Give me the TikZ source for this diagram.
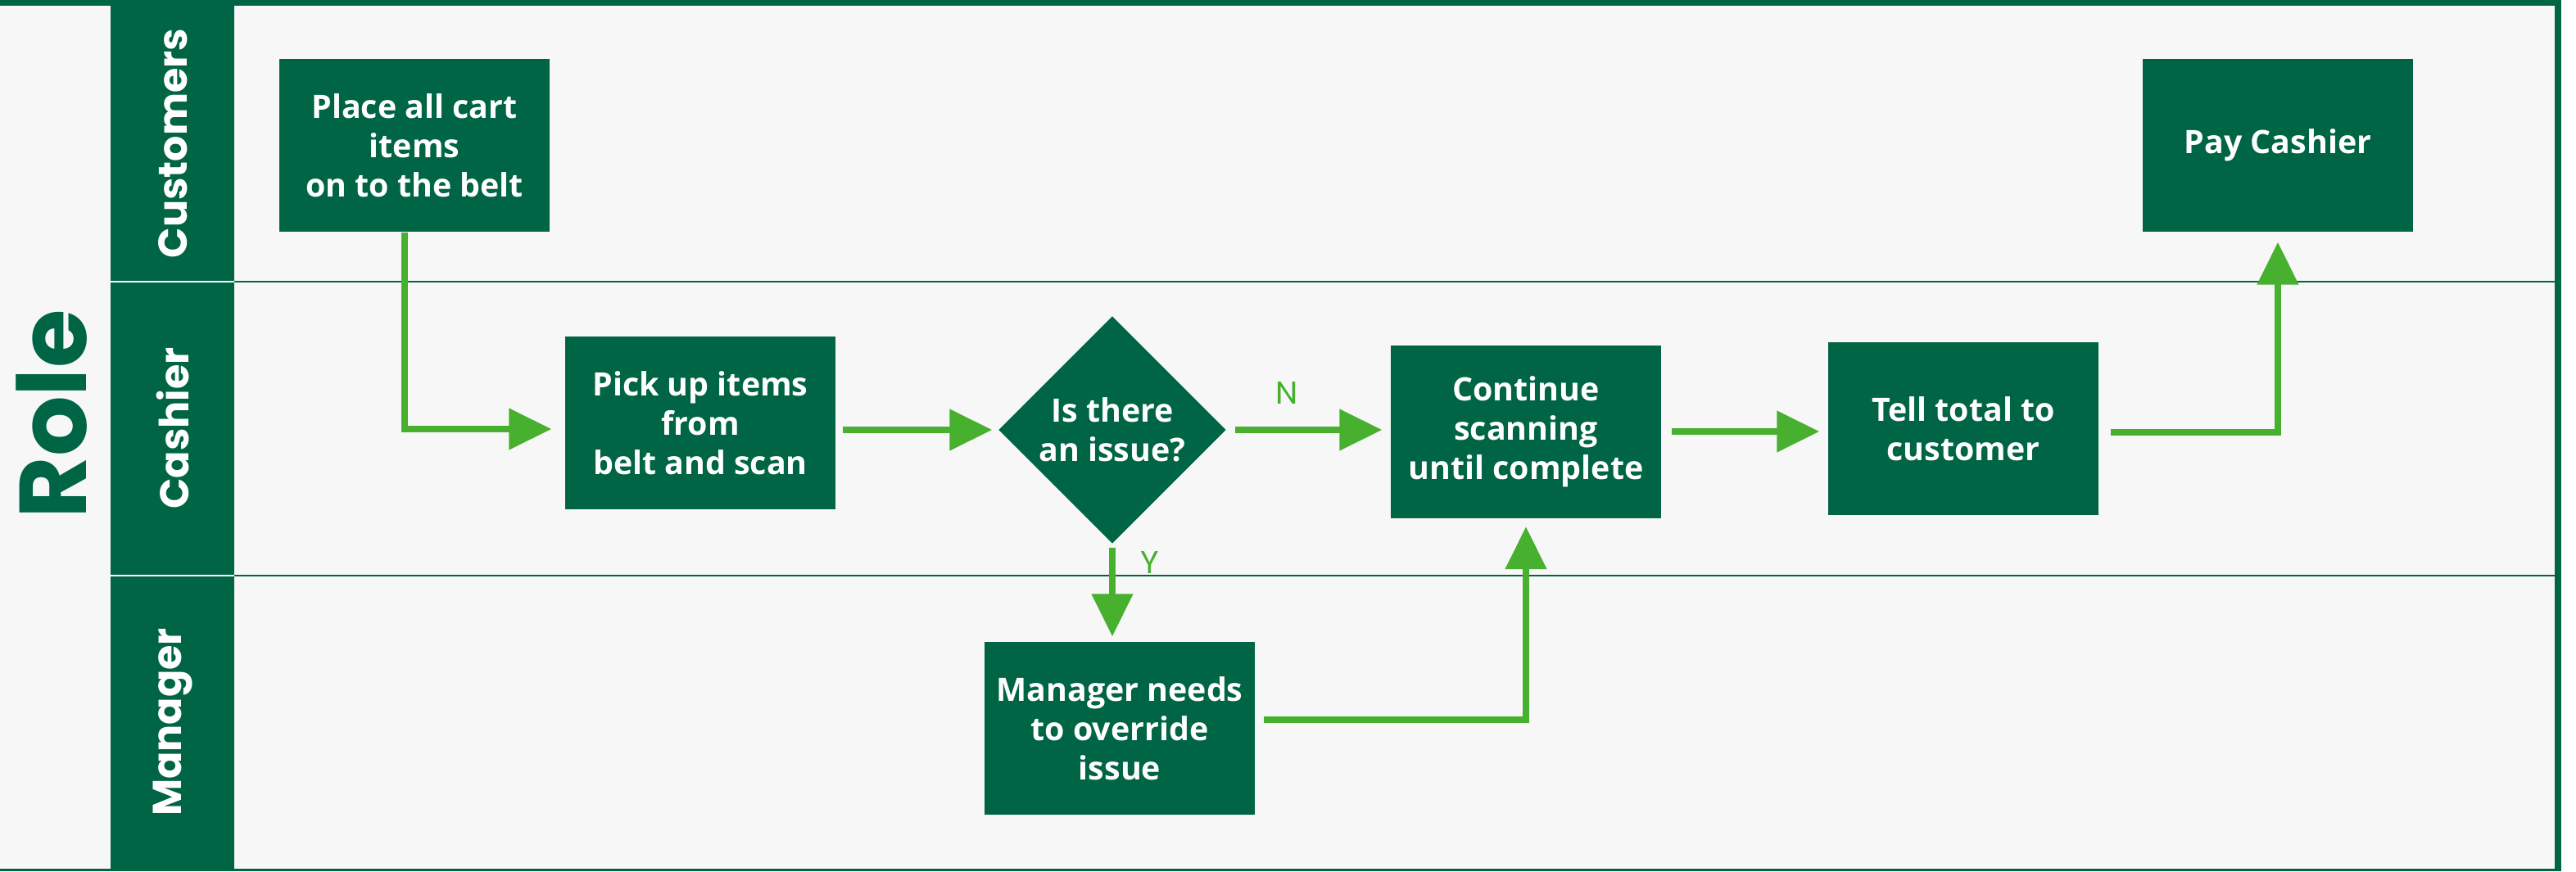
\documentclass[tikz,border=0pt]{standalone}
\usepackage{fontspec}
\setmainfont{Open Sans}
\newfontfamily\headfont{Poppins}
\usepackage{xcolor}
\usetikzlibrary{arrows.meta,positioning,shapes.geometric}
\definecolor{dkgreen}{HTML}{006544}
\definecolor{ltgreen}{HTML}{47B02F}
\definecolor{bggrey}{HTML}{F7F7F7}

\begin{document}
\begin{tikzpicture}[
  font=\bfseries\fontsize{11.2}{13.6}\selectfont,
  stepbox/.style ={rectangle, fill=dkgreen, text=white, minimum width=3.3cm, minimum height=2.11cm, align=center, inner sep=1pt},
  decision/.style={diamond,   fill=dkgreen, text=white, minimum width=2.78cm, minimum height=2.78cm, align=center, inner sep=0pt},
  lane/.style={text=white, rotate=90, font=\headfont\bfseries\fontsize{14}{16}\selectfont},
  lbl/.style={text=ltgreen, inner sep=0pt, font=\headfont\fontsize{11}{12}\selectfont},
  arr/.style={-{Triangle[length=5.2mm, width=4.9mm]}, line width=0.08cm, ltgreen, shorten <=1mm, shorten >=1mm},
]
\useasboundingbox (0,0) rectangle (31.45,10.64);
% frame and lanes
\fill[bggrey] (0,0) rectangle (31.27,10.64);
\fill[dkgreen] (0,10.57) rectangle (31.27,10.64);
\fill[dkgreen] (31.19,0) rectangle (31.27,10.64);
\fill[dkgreen] (0,0) rectangle (31.27,0.035);
\fill[dkgreen] (1.35,0) rectangle (2.86,10.64);
\draw[dkgreen, line width=0.027cm] (2.86,7.20) -- (31.19,7.20);
\draw[dkgreen, line width=0.027cm] (2.86,3.61) -- (31.19,3.61);
\draw[white, line width=0.015cm] (1.35,7.20) -- (2.86,7.20);
\draw[white, line width=0.015cm] (1.35,3.61) -- (2.86,3.61);

\node[text=dkgreen, rotate=90, font=\headfont\bfseries\fontsize{33}{36}\selectfont] (role) at (0.63,5.58) {Role};
\node[lane] (customers) at (2.11,8.89) {Customers};
\node[lane] (cashier)   at (2.11,5.41) {Cashier};
\node[lane] (manager)   at (2.11,1.82) {Manager};

% steps
\node[stepbox]  (place) at (5.06,8.865)  {Place all cart\\items\\on to the belt};
\node[stepbox]  (pick)  at (8.55,5.475)  {Pick up items\\from\\belt and scan};
\node[decision] (issue) at (13.58,5.39)  {Is there\\an issue?};
\node[stepbox]  (cont)  at (18.63,5.37)  {Continue\\scanning\\until complete};
\node[stepbox]  (tell)  at (23.97,5.405) {Tell total to\\customer};
\node[stepbox]  (pay)   at (27.81,8.865) {Pay Cashier};
\node[stepbox]  (mgr)   at (13.67,1.745) {Manager needs\\to override\\issue};

% flow
\draw[arr, shorten <=0pt, shorten >=1.6mm] ([xshift=-1.2mm]place.south) |- ([yshift=-0.75mm]pick.west);
\draw[arr, shorten <=0.8mm, shorten >=0.7mm] (pick.east |- issue) -- (issue.west);
\draw[arr] (issue.east) -- (issue.east -| cont.west) node[lbl, pos=0.37, above=2.8mm] {N};
\draw[arr, shorten <=0.4mm, shorten >=0.6mm] (issue.south) -- (issue.south |- mgr.north) node[lbl, pos=0.19, right=3mm] {Y};
\draw[arr] ([yshift=1.1mm]mgr.east) -| (cont.south);
\draw[arr, shorten <=1.2mm] (cont.east) -- (cont.east -| tell.west);
\draw[arr, shorten <=1.4mm, shorten >=1.2mm] ([yshift=-0.45mm]tell.east) -| (pay.south);
\end{tikzpicture}
\end{document}
